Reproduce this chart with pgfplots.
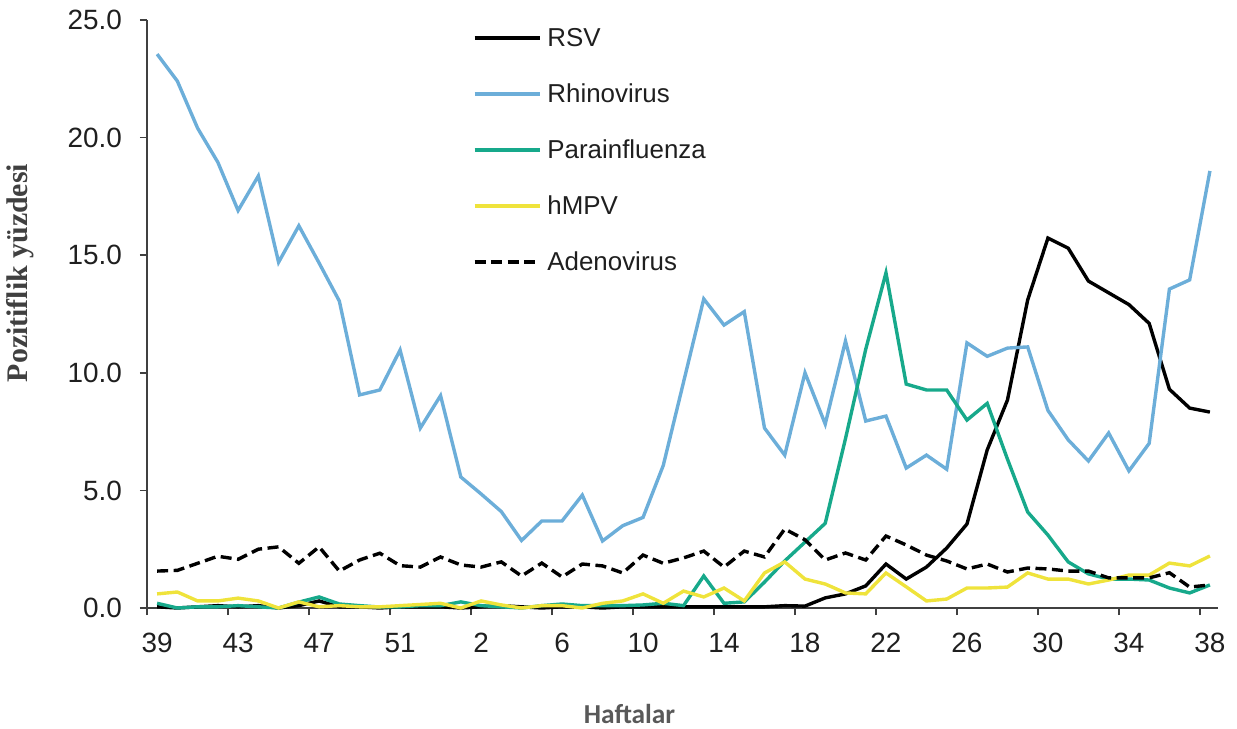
\documentclass[border=0pt]{standalone}
\usepackage{fontspec}
\setmainfont{Liberation Sans}
\newfontfamily\timesb{Liberation Serif}
\newfontfamily\carlito{Carlito}
\usepackage{pgfplots}
\usepackage{pgfplotstable}
\pgfplotsset{compat=1.18}

\definecolor{rhino}{RGB}{108,174,217}
\definecolor{para}{RGB}{23,169,139}
\definecolor{hmpv}{RGB}{239,227,59}
\definecolor{axgray}{RGB}{64,64,64}
\definecolor{labgray}{RGB}{89,89,89}
\definecolor{ylabgray}{RGB}{64,64,64}

\pgfplotstableread{
i rsv rhino para hmpv adeno
0 0.05 23.55 0.20 0.60 1.57
1 0.00 22.40 0.00 0.68 1.60
2 0.05 20.40 0.05 0.30 1.90
3 0.10 18.95 0.05 0.30 2.20
4 0.05 16.90 0.10 0.42 2.07
5 0.10 18.37 0.05 0.30 2.50
6 0.00 14.70 0.00 0.00 2.60
7 0.10 16.25 0.25 0.26 1.90
8 0.30 14.67 0.47 0.05 2.60
9 0.05 13.05 0.17 0.10 1.57
10 0.05 9.06 0.10 0.05 2.04
11 0.00 9.27 0.04 0.05 2.33
12 0.05 10.97 0.05 0.10 1.80
13 0.05 7.65 0.10 0.15 1.74
14 0.05 9.03 0.10 0.20 2.17
15 0.00 5.57 0.26 0.00 1.83
16 0.05 4.85 0.10 0.30 1.74
17 0.10 4.10 0.05 0.13 1.96
18 0.05 2.87 0.00 0.00 1.36
19 0.00 3.70 0.10 0.10 1.91
20 0.05 3.70 0.17 0.10 1.32
21 0.05 4.80 0.10 0.00 1.87
22 0.00 2.85 0.10 0.20 1.79
23 0.05 3.50 0.10 0.30 1.49
24 0.05 3.85 0.13 0.60 2.25
25 0.05 6.06 0.20 0.20 1.90
26 0.05 9.60 0.10 0.72 2.13
27 0.05 13.14 1.36 0.47 2.42
28 0.05 12.03 0.20 0.85 1.74
29 0.05 12.60 0.26 0.30 2.42
30 0.05 7.65 1.10 1.49 2.17
31 0.10 6.50 2.00 1.96 3.36
32 0.08 10.00 2.80 1.23 2.90
33 0.43 7.82 3.60 1.02 2.04
34 0.60 11.35 7.20 0.64 2.34
35 0.94 7.95 11.00 0.60 2.04
36 1.87 8.16 14.25 1.49 3.06
37 1.23 5.95 9.52 0.90 2.68
38 1.74 6.50 9.27 0.30 2.25
39 2.55 5.90 9.27 0.38 2.00
40 3.57 11.27 7.99 0.85 1.66
41 6.72 10.70 8.70 0.85 1.87
42 8.84 11.05 6.33 0.89 1.53
43 13.10 11.10 4.08 1.49 1.70
44 15.73 8.40 3.10 1.23 1.66
45 15.30 7.15 1.96 1.23 1.57
46 13.90 6.25 1.45 1.02 1.57
47 13.40 7.44 1.23 1.19 1.28
48 12.90 5.83 1.23 1.40 1.28
49 12.10 7.00 1.19 1.40 1.28
50 9.30 13.56 0.85 1.91 1.50
51 8.50 13.95 0.64 1.79 0.89
52 8.33 18.58 0.98 2.21 0.98
}\datatable

\begin{document}
\begin{tikzpicture}
\begin{axis}[
  at={(0bp,0bp)}, anchor=south west,
  scale only axis, width=1071bp, height=588bp,
  xmin=-0.5, xmax=52.4, ymin=0, ymax=25,
  axis lines=left,
  axis line style={-, draw=axgray, line width=1.5bp},
  tick align=outside, major tick length=7bp,
  tick style={draw=axgray, line width=1.5bp},
  minor tick num=0,
  xtick={-0.5,3.5,...,51.5},
  xticklabels={39,43,47,51,2,6,10,14,18,22,26,30,34,38},
  ytick={0,5,...,25},
  yticklabels={0.0,5.0,10.0,15.0,20.0,25.0},
  xticklabel style={font=\fontsize{28}{32}\selectfont, text=black!88, inner sep=0pt, anchor=north, xshift=10.12bp, yshift=-18bp},
  yticklabel style={font=\fontsize{28}{32}\selectfont, text=black!88, inner sep=0pt, anchor=east, xshift=-18bp},
  legend cell align=left,
  legend style={at={(0.3044,0.984)}, anchor=north west, draw=none, fill=none,
    inner sep=0pt, outer sep=0pt, row sep=39bp, column sep=6bp,
    font=\fontsize{26}{30}\selectfont, text=black!88,
    nodes={inner sep=0pt, text height=17bp, text depth=0bp}},
  legend image code/.code={\draw[#1] (0bp,0bp) -- (65bp,0bp);},
  clip=false,
]
\addplot[black, line width=3.4bp] table[x=i,y=rsv]{\datatable};
\addlegendentry{RSV}
\addplot[rhino, line width=3.4bp] table[x=i,y=rhino]{\datatable};
\addlegendentry{Rhinovirus}
\addplot[para, line width=3.4bp] table[x=i,y=para]{\datatable};
\addlegendentry{Parainfluenza}
\addplot[hmpv, line width=3.4bp] table[x=i,y=hmpv]{\datatable};
\addlegendentry{hMPV}
\addplot[black, line width=3.4bp, dash pattern=on 11bp off 5.5bp] table[x=i,y=adeno]{\datatable};
\addlegendentry{Adenovirus}
\end{axis}
\node[font=\carlito\bfseries\fontsize{27.5}{31}\selectfont, text=labgray, inner sep=0pt] at (482.5bp,-105.5bp) {Haftalar};
\node[font=\timesb\bfseries\fontsize{30}{34}\selectfont, text=ylabgray, inner sep=0pt, rotate=90] at (-126.5bp,335bp) {Pozitiflik yüzdesi};
\pgfresetboundingbox
\useasboundingbox (-147bp,-121bp) rectangle (1090bp,608bp);
\end{tikzpicture}
\end{document}
